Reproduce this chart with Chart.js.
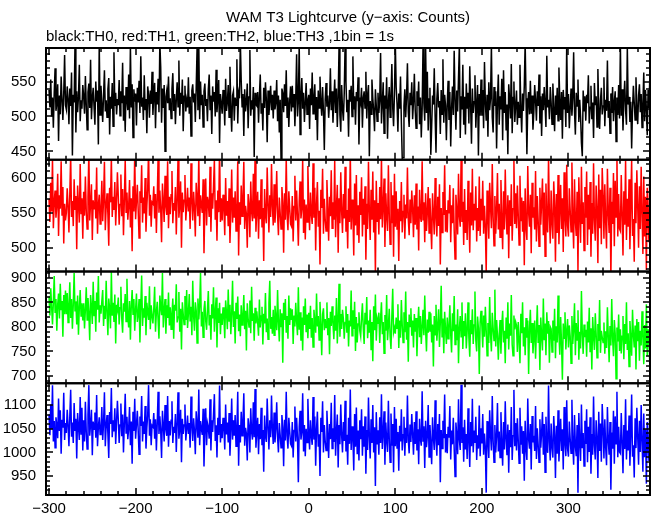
<!DOCTYPE html>
<html>
<head>
<meta charset="utf-8">
<script src="https://cdn.jsdelivr.net/npm/chart.js@4.4.0/dist/chart.umd.min.js"></script>
<style>
  html, body { margin: 0; padding: 0; background: #fff; }
  #wrap { width: 652px; height: 515px; }
</style>
</head>
<body>
<div id="wrap"><canvas id="lightcurve"></canvas></div>
<script>
const titleText = 'WAM T3 Lightcurve (y\u2212axis: Counts)';
const subtitleText = 'black:TH0, red:TH1, green:TH2, blue:TH3 ,1bin = 1s';

// time of the first bin (s) and bin size (s)
const tStart = -300;
const binSize = 1;

const xTicks = [-300, -200, -100, 0, 100, 200, 300];

// counts per 1 s bin
const th0 = [
  538, 513, 553, 500, 527, 484, 534, 569, 508, 519, 546, 465, 530, 503, 557, 524, 495, 533, 588, 516,
  510, 543, 525, 489, 540, 515, 563, 444, 531, 520, 603, 477, 536, 506, 528, 574, 493, 523, 511, 545,
  529, 504, 558, 517, 481, 535, 547, 512, 581, 496, 526, 541, 514, 488, 550, 521, 537, 460, 604, 502,
  544, 518, 492, 531, 566, 507, 523, 499, 539, 555, 474, 528, 511, 548, 486, 592, 515, 534, 503, 525,
  516, 552, 501, 536, 519, 577, 494, 530, 478, 542, 524, 509, 560, 497, 601, 513, 546, 470, 539, 521,
  533, 487, 541, 520, 551, 505, 586, 514, 527, 495, 559, 510, 525, 476, 543, 531, 498, 537, 518, 564,
  502, 530, 548, 483, 535, 517, 554, 506, 606, 571, 491, 540, 512, 545, 450, 528, 537, 519, 557, 509,
  526, 497, 539, 562, 508, 532, 489, 524, 549, 514, 580, 501, 534, 518, 553, 479, 529, 544, 507, 523,
  513, 556, 504, 528, 472, 537, 546, 520, 533, 492, 541, 597, 509, 602, 496, 550, 516, 531, 485, 536,
  547, 515, 525, 493, 538, 560, 510, 530, 475, 543, 521, 535, 500, 567, 506, 527, 552, 462, 532, 519,
  504, 538, 524, 487, 554, 508, 520, 545, 499, 571, 513, 478, 530, 536, 494, 527, 516, 582, 490, 533,
  526, 607, 551, 514, 532, 472, 539, 507, 521, 547, 483, 528, 595, 501, 523, 510, 542, 442, 534, 517,
  515, 535, 491, 529, 560, 505, 519, 480, 541, 512, 549, 525, 463, 537, 502, 522, 544, 509, 531, 497,
  537, 510, 520, 552, 493, 530, 477, 524, 438, 540, 533, 506, 546, 515, 566, 499, 527, 485, 522, 543,
  507, 544, 513, 532, 486, 526, 589, 500, 521, 604, 474, 528, 555, 511, 534, 492, 519, 548, 503, 523,
  531, 482, 540, 516, 563, 504, 525, 546, 495, 528, 466, 537, 512, 557, 520, 501, 542, 507, 452, 524,
  548, 514, 530, 498, 519, 569, 509, 536, 491, 523, 553, 505, 540, 485, 527, 600, 502, 478, 545, 511,
  494, 533, 603, 550, 506, 524, 471, 538, 521, 544, 500, 586, 510, 529, 488, 535, 522, 556, 460, 527,
  520, 541, 484, 527, 536, 512, 564, 497, 531, 545, 443, 522, 503, 553, 526, 508, 479, 539, 516, 493,
  534, 505, 523, 591, 490, 519, 549, 476, 530, 511, 556, 468, 521, 542, 499, 528, 575, 513, 486, 532,
  605, 542, 518, 478, 533, 511, 557, 492, 440, 441, 515, 539, 499, 528, 576, 506, 485, 534, 516, 549,
  496, 521, 561, 509, 483, 536, 515, 550, 489, 527, 470, 511, 599, 519, 494, 601, 505, 564, 480, 525,
  541, 445, 486, 530, 517, 569, 500, 448, 525, 548, 513, 522, 475, 538, 503, 582, 491, 531, 516, 466,
  519, 551, 495, 535, 457, 512, 543, 502, 594, 524, 481, 537, 507, 555, 603, 469, 529, 510, 574, 488,
  528, 474, 547, 511, 534, 490, 572, 516, 461, 540, 505, 521, 559, 484, 518, 545, 444, 532, 501, 553,
  501, 538, 483, 578, 520, 494, 531, 471, 549, 509, 526, 602, 499, 477, 542, 515, 536, 454, 523, 560,
  488, 529, 510, 554, 466, 566, 505, 535, 481, 517, 446, 546, 524, 497, 575, 476, 527, 550, 492, 516,
  537, 488, 521, 499, 574, 512, 477, 533, 508, 544, 606, 526, 446, 518, 535, 503, 551, 504, 530, 481,
  506, 545, 523, 494, 536, 515, 560, 490, 529, 472, 533, 509, 542, 517, 485, 587, 513, 524, 496, 542,
  520, 489, 547, 510, 479, 530, 502, 541, 494, 570, 524, 495, 535, 468, 538, 511, 528, 485, 604, 505,
  532, 483, 512, 540, 501, 526, 592, 507, 474, 534, 515, 553, 492, 524, 500, 462, 443, 537, 508, 529,
  494, 531, 519, 559, 490, 513, 544, 496, 520, 469, 548, 516, 529, 485, 568, 511, 482, 523, 541, 503,
  515, 556, 486, 524, 508, 580, 498, 522, 476, 533, 505, 542, 493, 521, 536, 464, 527, 502, 545, 497,
  602, 501, 539, 480, 525, 551, 509, 488, 599, 517, 528, 492, 521, 454, 510, 544, 520, 495, 556, 513,
  489, 530, 546, 506, 532, 484, 518, 563, 493, 538, 511, 473, 538, 512, 557, 497, 526, 504, 535, 517
];

const th1 = [
  570, 537, 593, 552, 628, 528, 566, 582, 543, 561, 606, 517, 575, 556, 624, 547, 587, 506, 563, 539,
  550, 585, 559, 522, 577, 633, 544, 567, 531, 598, 555, 574, 498, 589, 562, 536, 620, 549, 571, 513,
  580, 546, 602, 553, 527, 572, 638, 539, 564, 591, 511, 568, 556, 583, 542, 615, 520, 561, 576, 534,
  555, 596, 538, 569, 623, 525, 560, 578, 548, 503, 586, 565, 630, 544, 573, 554, 594, 532, 567, 608,
  574, 533, 562, 605, 545, 584, 518, 568, 626, 551, 579, 540, 559, 597, 529, 571, 495, 588, 552, 636,
  541, 567, 590, 554, 514, 581, 564, 618, 536, 572, 549, 600, 523, 560, 585, 643, 546, 576, 530, 565,
  563, 588, 542, 577, 521, 569, 631, 550, 582, 555, 508, 592, 566, 537, 603, 559, 547, 624, 528, 573,
  548, 576, 610, 535, 564, 553, 587, 519, 570, 628, 543, 561, 595, 500, 579, 551, 568, 604, 539, 560,
  586, 552, 572, 527, 621, 567, 539, 580, 557, 516, 593, 569, 545, 634, 531, 575, 562, 550, 598, 492,
  559, 599, 532, 573, 565, 544, 616, 523, 578, 556, 588, 626, 540, 568, 510, 582, 551, 646, 537, 571,
  539, 576, 558, 518, 600, 546, 567, 531, 585, 507, 553, 612, 536, 572, 543, 581, 524, 556, 624, 489,
  565, 533, 589, 545, 571, 623, 527, 560, 548, 500, 577, 562, 515, 595, 552, 538, 606, 542, 631, 523,
  554, 580, 513, 568, 541, 598, 529, 557, 481, 584, 547, 535, 615, 563, 522, 575, 544, 620, 559, 532,
  591, 536, 561, 610, 546, 518, 572, 550, 527, 587, 564, 493, 578, 540, 629, 548, 525, 581, 557, 534,
  531, 574, 509, 559, 603, 539, 582, 547, 503, 566, 595, 542, 556, 627, 521, 569, 512, 562, 537, 617,
  560, 525, 579, 548, 534, 621, 543, 586, 496, 563, 594, 530, 553, 476, 583, 557, 613, 520, 570, 541,
  524, 597, 555, 510, 573, 545, 611, 528, 565, 540, 625, 515, 558, 590, 493, 571, 535, 608, 552, 521,
  577, 542, 616, 523, 554, 499, 585, 537, 637, 526, 569, 550, 489, 592, 532, 604, 518, 561, 507, 580,
  547, 601, 516, 570, 533, 588, 483, 563, 527, 623, 552, 511, 583, 540, 609, 522, 568, 461, 596, 538,
  564, 519, 587, 541, 630, 529, 559, 599, 501, 578, 545, 524, 618, 549, 505, 594, 535, 575, 487, 606,
  530, 581, 527, 556, 481, 567, 538, 594, 522, 552, 576, 513, 562, 542, 615, 541, 518, 569, 535, 582,
  556, 515, 575, 533, 592, 526, 559, 496, 583, 544, 537, 624, 540, 565, 508, 578, 524, 551, 587, 521,
  571, 534, 498, 578, 548, 519, 600, 543, 516, 573, 531, 591, 476, 557, 522, 580, 547, 618, 523, 554,
  522, 568, 549, 590, 508, 561, 535, 585, 525, 484, 576, 553, 519, 606, 545, 530, 626, 537, 566, 504,
  584, 521, 554, 511, 596, 542, 493, 579, 532, 613, 525, 563, 539, 588, 509, 557, 524, 602, 517, 570,
  539, 596, 520, 560, 530, 464, 582, 547, 513, 593, 560, 528, 620, 544, 503, 574, 520, 555, 607, 526,
  563, 515, 597, 541, 498, 581, 526, 612, 549, 519, 575, 485, 568, 531, 591, 510, 556, 627, 534, 578,
  528, 589, 548, 504, 603, 538, 572, 523, 567, 475, 585, 529, 511, 617, 550, 530, 576, 492, 593, 543,
  558, 526, 610, 509, 574, 540, 502, 586, 533, 564, 599, 518, 579, 488, 592, 537, 522, 631, 545, 506,
  582, 535, 513, 595, 561, 480, 577, 521, 604, 505, 553, 590, 527, 571, 494, 608, 543, 516, 619, 532,
  516, 585, 554, 523, 622, 542, 499, 598, 538, 517, 580, 466, 601, 548, 507, 616, 534, 565, 496, 587,
  543, 609, 504, 576, 526, 594, 487, 564, 520, 621, 540, 510, 589, 555, 478, 605, 528, 583, 505, 614,
  575, 513, 591, 537, 499, 613, 551, 521, 586, 456, 566, 534, 607, 502, 596, 544, 634, 516, 577, 527,
  524, 604, 547, 489, 581, 533, 625, 511, 570, 530, 598, 498, 563, 626, 517, 541, 480, 593, 535, 611,
  560, 500, 588, 527, 616, 550, 491, 602, 516, 573, 468, 586, 539, 508, 619, 525, 569, 497, 606, 547
];

const th2 = [
  862, 823, 879, 841, 805, 850, 904, 830, 857, 792, 845, 868, 817, 888, 834, 853, 780, 865, 826, 874,
  826, 869, 809, 842, 891, 818, 857, 796, 845, 910, 833, 852, 805, 864, 784, 840, 875, 822, 848, 813,
  848, 797, 836, 881, 814, 859, 828, 773, 865, 842, 806, 892, 823, 853, 790, 870, 835, 904, 809, 844,
  827, 852, 875, 802, 843, 816, 894, 830, 783, 858, 837, 797, 912, 823, 849, 810, 866, 766, 845, 835,
  860, 805, 839, 882, 817, 788, 848, 831, 867, 811, 898, 823, 799, 853, 774, 842, 875, 826, 857, 792,
  835, 868, 810, 825, 857, 768, 842, 905, 802, 838, 819, 863, 783, 849, 830, 814, 883, 795, 844, 822,
  807, 837, 882, 790, 830, 851, 814, 776, 864, 841, 824, 910, 799, 834, 857, 786, 844, 818, 870, 803,
  840, 795, 827, 858, 776, 845, 833, 887, 809, 820, 871, 790, 837, 754, 850, 826, 805, 863, 814, 875,
  798, 828, 867, 811, 841, 783, 894, 823, 792, 850, 834, 767, 858, 815, 844, 910, 801, 831, 779, 836,
  853, 812, 794, 835, 873, 803, 824, 774, 846, 817, 881, 790, 830, 860, 758, 838, 808, 849, 785, 827,
  804, 840, 820, 777, 854, 829, 795, 876, 812, 845, 785, 827, 894, 800, 832, 766, 849, 816, 862, 791,
  825, 781, 844, 804, 821, 865, 795, 833, 752, 848, 817, 800, 854, 787, 882, 812, 828, 772, 839, 807,
  832, 810, 782, 856, 799, 822, 841, 764, 827, 807, 869, 789, 817, 775, 848, 894, 796, 820, 786, 835,
  783, 843, 819, 793, 875, 809, 770, 836, 801, 828, 727, 849, 814, 857, 788, 822, 776, 864, 804, 838,
  814, 836, 765, 823, 801, 849, 811, 783, 881, 794, 830, 772, 819, 752, 842, 804, 858, 789, 825, 777,
  829, 796, 843, 778, 818, 759, 835, 811, 788, 868, 801, 822, 773, 851, 806, 742, 826, 838, 793, 816,
  799, 850, 783, 818, 744, 831, 802, 842, 807, 775, 823, 792, 859, 766, 813, 888, 780, 826, 796, 835,
  817, 776, 809, 842, 788, 826, 760, 813, 801, 874, 782, 834, 796, 851, 751, 820, 768, 806, 830, 792,
  781, 819, 848, 797, 765, 829, 805, 861, 777, 813, 788, 835, 754, 810, 730, 842, 793, 866, 772, 816,
  806, 829, 767, 818, 850, 785, 810, 746, 824, 792, 865, 773, 802, 837, 781, 755, 821, 878, 789, 798,
  786, 819, 797, 846, 757, 813, 778, 855, 804, 768, 830, 789, 872, 774, 810, 729, 825, 801, 838, 782,
  813, 758, 826, 790, 818, 740, 805, 841, 779, 822, 765, 800, 835, 783, 864, 793, 750, 815, 788, 831,
  790, 828, 768, 805, 719, 822, 784, 845, 772, 801, 836, 759, 810, 884, 780, 817, 746, 831, 795, 765,
  819, 776, 800, 844, 785, 748, 828, 791, 863, 764, 805, 773, 836, 726, 797, 822, 780, 850, 755, 812,
  781, 828, 756, 792, 850, 777, 739, 814, 785, 836, 765, 804, 872, 772, 750, 821, 797, 704, 809, 833,
  802, 758, 823, 780, 841, 792, 741, 808, 767, 861, 785, 750, 829, 798, 772, 876, 760, 814, 783, 733,
  784, 814, 745, 802, 833, 768, 792, 726, 819, 776, 850, 754, 807, 782, 865, 764, 741, 823, 795, 810,
  803, 749, 810, 773, 726, 827, 787, 850, 760, 799, 742, 818, 778, 813, 704, 796, 835, 767, 808, 746,
  776, 813, 735, 792, 844, 767, 804, 712, 819, 781, 752, 858, 773, 807, 742, 830, 786, 812, 727, 800,
  796, 749, 813, 772, 837, 736, 801, 768, 864, 785, 743, 820, 766, 692, 807, 777, 830, 754, 791, 816,
  758, 803, 781, 726, 822, 765, 796, 848, 742, 808, 773, 834, 733, 790, 756, 873, 785, 745, 805, 779,
  794, 739, 811, 768, 839, 750, 797, 713, 820, 781, 753, 828, 785, 737, 806, 771, 855, 747, 792, 779,
  768, 809, 745, 791, 757, 840, 781, 728, 802, 762, 857, 777, 740, 814, 786, 694, 799, 770, 825, 751,
  795, 746, 781, 822, 734, 806, 765, 850, 753, 787, 719, 812, 777, 741, 835, 784, 758, 803, 713, 816,
  771, 810, 731, 792, 762, 832, 781, 724, 804, 756, 846, 741, 795, 779, 719, 818, 754, 787, 739, 801
];

const th3 = [
  1080, 1036, 1101, 1049, 1142, 1023, 1066, 1010, 1074, 1057, 1030, 1114, 1045, 1089, 997, 1069, 1052, 1126, 1026, 1062,
  1041, 1090, 1057, 1013, 1076, 1132, 1033, 1063, 1020, 1104, 1047, 1071, 987, 1083, 1054, 1026, 1117, 1039, 1094, 1004,
  1068, 1023, 1107, 1044, 1007, 1079, 1142, 1035, 1059, 1090, 994, 1065, 1049, 1084, 1031, 1121, 1013, 1054, 1074, 1038,
  1047, 1096, 1026, 1062, 1127, 1013, 1057, 1079, 1039, 988, 1085, 1060, 1136, 1032, 1068, 1044, 1093, 1018, 1065, 1109,
  1069, 1020, 1058, 1103, 1034, 1080, 1000, 1062, 1124, 1041, 1075, 1028, 1051, 1096, 1015, 1065, 976, 1086, 1045, 1113,
  1029, 1059, 1088, 1046, 996, 1076, 1056, 1119, 1023, 1065, 1039, 1098, 1008, 1052, 1080, 1142, 1035, 1070, 1015, 1057,
  1054, 1083, 1029, 1070, 1004, 1061, 1128, 1039, 1076, 1046, 988, 1088, 1057, 1023, 1100, 1049, 1035, 1119, 1012, 1066,
  1036, 1068, 1108, 1020, 1054, 1041, 1081, 1001, 1061, 1127, 1029, 1050, 1090, 979, 1071, 1039, 1058, 1101, 1025, 1049,
  1078, 1039, 1062, 1010, 1118, 1056, 1024, 1072, 1045, 996, 1087, 1058, 1031, 1133, 1015, 1066, 1050, 1037, 1092, 970,
  1046, 1093, 1015, 1062, 1053, 1029, 1112, 1004, 1068, 1043, 1080, 1123, 1024, 1057, 989, 1073, 1037, 1141, 1021, 1060,
  1030, 1073, 1052, 1006, 1101, 1038, 1063, 1021, 1083, 993, 1046, 1114, 1027, 1068, 1035, 1079, 1013, 1050, 1128, 972,
  1058, 1021, 1086, 1035, 1065, 1125, 1014, 1052, 1039, 983, 1072, 1055, 1000, 1093, 1043, 1027, 1106, 1032, 1134, 1010,
  1043, 1073, 996, 1060, 1028, 1094, 1015, 1047, 959, 1078, 1035, 1022, 1114, 1054, 1006, 1068, 1032, 1120, 1049, 1018,
  1084, 1021, 1049, 1106, 1032, 1000, 1062, 1037, 1010, 1079, 1053, 971, 1069, 1025, 1128, 1035, 1008, 1073, 1045, 1018,
  1014, 1064, 989, 1046, 1097, 1023, 1073, 1032, 937, 1054, 1088, 1027, 1043, 1125, 1002, 1058, 992, 1050, 1021, 1113,
  1046, 1006, 1068, 1033, 1016, 1117, 1027, 1076, 972, 1050, 1086, 1012, 1038, 950, 1073, 1043, 1108, 1000, 1058, 1024,
  1004, 1088, 1040, 988, 1060, 1028, 1105, 1008, 1051, 1022, 1121, 993, 1043, 1080, 968, 1058, 1017, 1101, 1036, 1000,
  1064, 1024, 1109, 1002, 1037, 974, 1073, 1018, 1133, 1005, 1055, 1033, 962, 1081, 1012, 1095, 996, 1046, 983, 1068,
  1028, 1091, 993, 1055, 1012, 1076, 955, 1047, 1005, 1116, 1034, 987, 1070, 1020, 1100, 1000, 1053, 929, 1085, 1018,
  1047, 995, 1074, 1020, 1123, 1007, 1041, 1087, 974, 1063, 1025, 1001, 1109, 1030, 979, 1082, 1014, 1060, 958, 1096,
  1013, 1071, 1009, 1043, 961, 1056, 1023, 1091, 1004, 1037, 1075, 993, 1052, 1020, 1120, 1027, 998, 1059, 1022, 1081,
  1039, 995, 1064, 1018, 1087, 1004, 1049, 975, 1071, 1028, 1014, 1129, 1024, 1055, 967, 1067, 1011, 1034, 1100, 990,
  1058, 1017, 975, 1074, 1031, 1005, 1110, 1026, 993, 1060, 1015, 1081, 937, 1047, 1008, 1067, 1030, 1122, 1000, 1039,
  998, 1054, 1031, 1098, 985, 1046, 1017, 1073, 1008, 949, 1063, 1035, 996, 1112, 1027, 1005, 1143, 1020, 1053, 980,
  1069, 1006, 1039, 986, 1093, 1023, 969, 1064, 1013, 1113, 1000, 1046, 1020, 1075, 984, 1036, 1008, 1099, 992, 1051,
  1019, 1081, 995, 1040, 1010, 915, 1066, 1027, 988, 1089, 1038, 1004, 1119, 1024, 979, 1058, 1000, 1034, 1104, 1002,
  1044, 989, 1085, 1020, 972, 1064, 1006, 1108, 1028, 994, 1059, 957, 1047, 1011, 1096, 984, 1035, 1132, 1013, 1062,
  1004, 1072, 1026, 977, 1094, 1016, 1055, 997, 1045, 940, 1067, 1007, 984, 1114, 1028, 1008, 1060, 964, 1077, 1021,
  1035, 1003, 1098, 986, 1051, 1017, 979, 1070, 1010, 1041, 1085, 995, 1060, 958, 1075, 1014, 999, 1141, 1022, 983,
  1061, 1011, 989, 1077, 1037, 946, 1056, 997, 1089, 981, 1029, 1071, 1003, 1049, 964, 1096, 1019, 992, 1110, 1008,
  991, 1065, 1029, 998, 1111, 1017, 974, 1079, 1013, 992, 1058, 915, 1083, 1023, 982, 1101, 1009, 1041, 971, 1067,
  1018, 1091, 979, 1054, 1001, 1074, 955, 1039, 995, 1118, 1015, 985, 1068, 1030, 946, 1086, 1003, 1061, 980, 1102,
  1051, 987, 1070, 1011, 973, 1096, 1025, 995, 1064, 921, 1042, 1008, 1088, 976, 1076, 1018, 1128, 990, 1054, 1001,
  998, 1083, 1021, 956, 1058, 1007, 1112, 985, 1046, 1004, 1078, 972, 1038, 1122, 991, 1015, 947, 1072, 1009, 1094,
  1034, 974, 1067, 1001, 1100, 1024, 959, 1082, 990, 1049, 934, 1064, 1013, 982, 1103, 999, 1045, 971, 1088, 1021
];

Chart.defaults.font.family = '"Liberation Sans", Arial, Helvetica, sans-serif';
Chart.defaults.font.size = 15;
Chart.defaults.color = '#000';

const toPoints = arr => arr.map((v, i) => ({ x: tStart + i * binSize, y: v }));
const fmtNum = v => String(v).replace('-', '\u2212');

// inward ticks on all four sides of every panel, plus the panel frames
const panelFrames = {
  id: 'panelFrames',
  afterDatasetsDraw(chart) {
    const { ctx, chartArea, scales } = chart;
    const xs = scales.x;
    const left = chartArea.left, right = chartArea.right;
    ctx.save();
    ctx.strokeStyle = '#000';
    ['y0', 'y1', 'y2', 'y3'].forEach(id => {
      const s = scales[id];
      ctx.lineWidth = 1.5;
      ctx.beginPath();
      for (let v = Math.ceil(s.min / 10) * 10; v <= s.max; v += 10) {
        const py = Math.round(s.getPixelForValue(v));
        const len = v % 50 === 0 ? 7 : 4;
        ctx.moveTo(left, py); ctx.lineTo(left + len, py);
        ctx.moveTo(right, py); ctx.lineTo(right - len, py);
      }
      for (let v = Math.ceil(xs.min / 20) * 20; v <= xs.max; v += 20) {
        const px = Math.round(xs.getPixelForValue(v));
        const len = v % 100 === 0 ? 7 : 4;
        ctx.moveTo(px, s.bottom); ctx.lineTo(px, s.bottom - len);
        ctx.moveTo(px, s.top); ctx.lineTo(px, s.top + len);
      }
      ctx.stroke();
      ctx.lineWidth = 2;
      ctx.strokeRect(left, s.top, right - left, s.bottom - s.top);
    });
    ctx.restore();
  }
};

const yAxis = (min, max) => ({
  type: 'linear',
  position: 'left',
  stack: 'panels',
  stackWeight: 1,
  min: min,
  max: max,
  grid: { display: false, drawTicks: false },
  border: { display: false },
  ticks: { stepSize: 50, includeBounds: false, autoSkip: false, padding: 10, callback: fmtNum },
  afterFit: scale => { scale.width = 46; }
});

const line = (label, arr, color, axis) => ({
  label: label,
  data: toPoints(arr),
  yAxisID: axis,
  borderColor: color,
  borderWidth: 1.5,
  pointRadius: 0,
  tension: 0,
  fill: false
});

new Chart(document.getElementById('lightcurve'), {
  type: 'line',
  data: {
    datasets: [
      line('TH0', th0, '#000000', 'y0'),
      line('TH1', th1, '#ff0000', 'y1'),
      line('TH2', th2, '#00ff00', 'y2'),
      line('TH3', th3, '#0000ff', 'y3')
    ]
  },
  options: {
    responsive: true,
    maintainAspectRatio: false,
    animation: false,
    events: [],
    layout: { padding: { left: 0, right: 2, top: 0, bottom: 0 } },
    plugins: {
      legend: { display: false },
      tooltip: { enabled: false },
      title: {
        display: true,
        text: titleText,
        fullSize: false,
        align: 'center',
        font: { size: 15, weight: 'normal' },
        padding: { top: 9, bottom: 1 }
      },
      subtitle: {
        display: true,
        text: subtitleText,
        fullSize: false,
        align: 'start',
        font: { size: 15, weight: 'normal' },
        padding: { top: 0, bottom: 2 }
      }
    },
    scales: {
      x: {
        type: 'linear',
        min: -303.5,
        max: 394.2,
        grid: { display: false, drawTicks: false },
        border: { display: false },
        afterBuildTicks: scale => { scale.ticks = xTicks.map(v => ({ value: v })); },
        afterFit: scale => { scale.height = 20; },
        ticks: { padding: 5, maxRotation: 0, autoSkip: false, callback: fmtNum }
      },
      // first defined sits at the bottom of the stack
      y3: yAxis(910, 1146),
      y2: yAxis(685, 913),
      y1: yAxis(466, 626),
      y0: yAxis(438, 598)
    }
  },
  plugins: [panelFrames]
});
</script>
</body>
</html>
